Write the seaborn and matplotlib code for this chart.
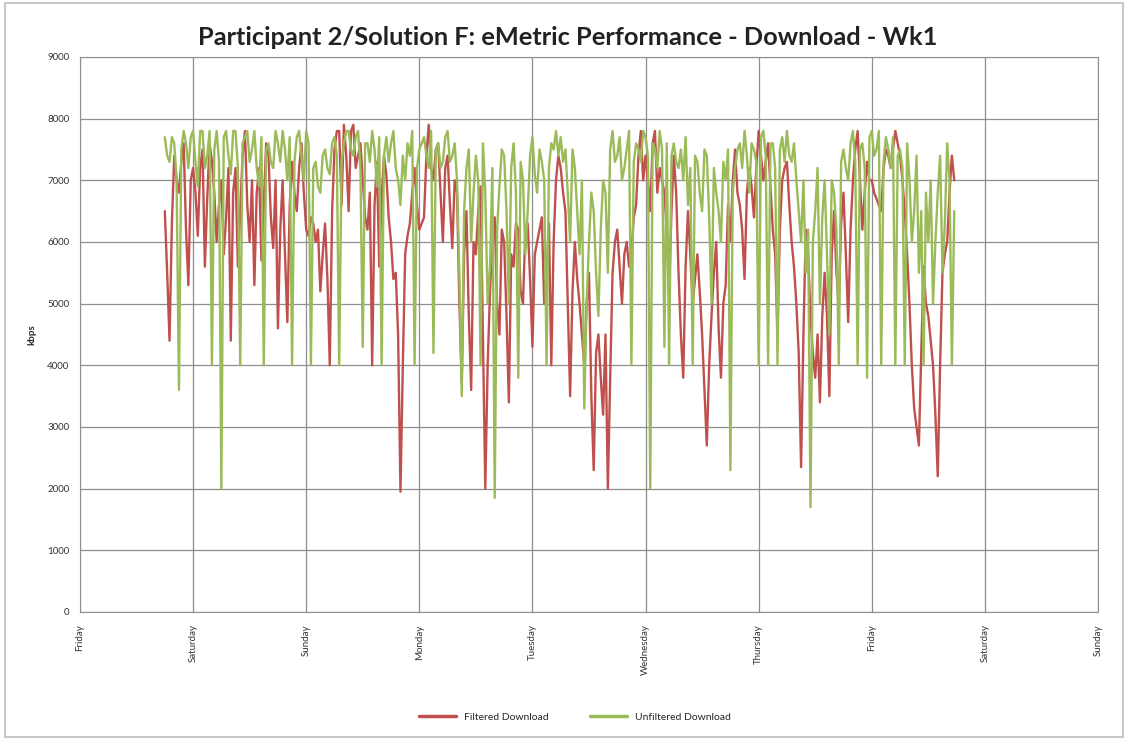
import numpy as np
import pandas as pd
import seaborn as sns
import matplotlib.pyplot as plt
from matplotlib.patches import Rectangle
from matplotlib.lines import Line2D

day_labels = ["Friday", "Saturday", "Sunday", "Monday", "Tuesday",
              "Wednesday", "Thursday", "Friday", "Saturday", "Sunday"]

# samples every half hour, first one at Friday 18:00
start_day = 0.75

# readings on the hour
unfiltered = [
    7700, 7300, 7600, 3600, 7800, 7200, 7800, 6900, 7800, 7400, 4000, 7800,
    2000, 7800, 7100, 7800, 4000, 7700, 7300, 7800, 6900, 4000, 7600, 7200,
    7600, 7800, 7000, 4000, 7700, 7400, 7800, 4000, 7300, 6800, 7500, 7100,
    7700, 4000, 7600, 7800, 7400, 7800, 4300, 7600, 7800, 6900, 4000, 7700,
    7600, 7200, 6600, 7000, 7400, 4000, 7500, 7700, 7200, 4200, 7600, 7300,
    7800, 7400, 7000, 3500, 7200, 6000, 7400, 4000, 6800, 5600, 1850, 6900,
    7400, 5000, 7600, 3800, 7000, 6500, 7700, 6800, 7300, 4000, 7600, 7800,
    7700, 7500, 6000, 7200, 5800, 3300, 6000, 6500, 4800, 7000, 5500, 7800,
    7400, 7000, 7500, 4000, 7600, 7300, 7700, 2000, 7500, 7800, 4300, 4000,
    7600, 7200, 7000, 6600, 4000, 7300, 6500, 7400, 5000, 6800, 6000, 7000,
    2300, 7200, 7600, 7800, 6800, 7500, 4000, 7800, 4000, 7600, 4000, 7700,
    7800, 7300, 7000, 6000, 5500, 1700, 6500, 5000, 7000, 4500, 6800, 4000,
    7500, 7000, 7800, 4000, 7600, 3800, 7800, 7500, 4000, 7700, 7200, 4000,
    7500, 4000, 7000, 6500, 5500, 4000, 6000, 5000, 6800, 5500, 7600, 4000,
]
filtered = [
    6500, 4400, 7400, 6800, 7600, 5300, 7200, 6100, 7500, 6700, 7300, 6000,
    7000, 6400, 4400, 7200, 6500, 7800, 6000, 5300, 7200, 6600, 7400, 5900,
    4600, 7000, 4700, 7300, 6500, 7600, 6200, 6400, 6000, 5200, 6300, 4000,
    7500, 7800, 7900, 6500, 7900, 7400, 7000, 6200, 4000, 7300, 6700, 7100,
    6000, 5500, 1950, 5800, 6300, 7200, 6200, 6400, 7900, 7000, 7600, 6000,
    7400, 5900, 6800, 3700, 6500, 3600, 5800, 6900, 2000, 5200, 6400, 4500,
    6000, 3400, 5600, 6200, 5000, 6300, 4300, 6000, 6400, 5500, 4000, 7000,
    7200, 6500, 3500, 6000, 5000, 4000, 5500, 2300, 4500, 3200, 2000, 5500,
    6200, 5000, 6000, 5800, 6600, 7800, 7400, 6500, 7800, 7200, 6800, 5200,
    7400, 5500, 3800, 6500, 5000, 5800, 4500, 2700, 4800, 6000, 3800, 5300,
    6000, 7500, 6600, 5400, 7200, 6400, 7800, 7000, 7600, 6200, 4500, 7000,
    7300, 6000, 5000, 2350, 6200, 4800, 3800, 3400, 5500, 3500, 6500, 5000,
    6800, 4700, 7000, 7800, 6200, 7300, 7000, 6700, 6500, 7500, 7200, 7800,
    7400, 6500, 5000, 3300, 2700, 5600, 4800, 4000, 2200, 5500, 6000, 7400,
]

# readings on the half hour
unfiltered_half = [
    7400, 7700, 7000, 7500, 7600, 7700, 7300, 7800, 7200, 7800, 7500, 7300,
    7700, 7400, 7800, 7200, 7600, 7800, 7500, 7200, 7700, 7500, 7300, 7800,
    7300, 7500, 7700, 7300, 7800, 7000, 7600, 7200, 6900, 7400, 7200, 7600,
    7400, 7300, 7800, 7500, 7700, 7200, 7600, 7300, 7500, 7700, 7400, 7300,
    7800, 7000, 7400, 7600, 7800, 7200, 7600, 7400, 7800, 7500, 7200, 7700,
    7300, 7600, 5500, 6500, 7500, 6800, 7000, 7600, 5000, 7200, 6200, 7500,
    6500, 7200, 6800, 7300, 5800, 7400, 7100, 7500, 7000, 7200, 7500, 7400,
    7300, 6800, 7500, 6500, 7000, 5000, 6800, 5500, 6200, 6800, 7500, 7300,
    7700, 7200, 7800, 7300, 7500, 7800, 7400, 7600, 7200, 7500, 7600, 7400,
    7300, 7500, 7700, 7200, 7400, 6800, 7500, 6400, 7200, 6500, 7300, 7500,
    6800, 7500, 7200, 7400, 7600, 7300, 7700, 7400, 7600, 7200, 7500, 7300,
    7400, 7600, 6500, 7000, 6200, 6000, 7200, 6400, 5800, 7000, 6200, 7300,
    7200, 7600, 7300, 7500, 7200, 7700, 7400, 7800, 7300, 7500, 7700, 7400,
    7200, 7600, 6000, 7400, 6500, 6800, 7000, 6000, 7400, 6300, 7000, 6500,
]
filtered_half = [
    5500, 6300, 7000, 7300, 6200, 7000, 6800, 7200, 5600, 7600, 6800, 6600,
    5800, 7200, 6800, 5600, 7400, 6600, 7000, 6800, 5700, 7600, 6400, 7000,
    6200, 5800, 6600, 6800, 7200, 6800, 6100, 6300, 6200, 5800, 5400, 6500,
    7800, 6600, 7400, 7800, 7200, 7600, 6400, 6800, 6600, 5600, 7400, 6400,
    5400, 4500, 4000, 6100, 6800, 6600, 6300, 7400, 7200, 7500, 6800, 7200,
    6600, 7000, 5000, 5800, 4800, 6000, 6500, 4500, 4000, 6000, 5000, 6200,
    4800, 5800, 6300, 5200, 6200, 5400, 5800, 6200, 5000, 6300, 6000, 7400,
    6800, 5000, 5200, 5400, 4500, 5000, 3500, 4200, 3800, 4500, 3800, 6000,
    5600, 5800, 5600, 6400, 7400, 7000, 7000, 7600, 6800, 7000, 6200, 6500,
    6800, 4500, 5600, 5800, 5400, 5200, 3600, 4000, 5500, 4600, 5000, 6600,
    7000, 6800, 6200, 6800, 6900, 7200, 7400, 7300, 6900, 5800, 6200, 7200,
    6600, 5600, 4200, 4500, 5800, 4200, 4500, 4800, 4800, 5800, 5500, 6300,
    5800, 6200, 7500, 7000, 6800, 7000, 6800, 6600, 7200, 7400, 7500, 7600,
    7000, 5800, 4000, 3000, 4200, 5000, 4400, 3200, 4000, 5800, 6800, 7000,
]

hours = np.arange(len(filtered))
t_hour = start_day + hours / 24
t_half = start_day + (hours + 0.5) / 24

df = pd.concat([
    pd.DataFrame({"day": t_hour, "kbps": filtered, "series": "Filtered Download"}),
    pd.DataFrame({"day": t_half, "kbps": filtered_half, "series": "Filtered Download"}),
    pd.DataFrame({"day": t_hour, "kbps": unfiltered, "series": "Unfiltered Download"}),
    pd.DataFrame({"day": t_half, "kbps": unfiltered_half, "series": "Unfiltered Download"}),
])

sns.set_style("whitegrid", {"grid.color": "#8f8f8f", "axes.edgecolor": "#8f8f8f"})
plt.rcParams["font.family"] = ["Lato", "DejaVu Sans"]

fig = plt.figure(figsize=(11.28, 7.4), dpi=100)
ax = fig.add_axes([0.0709, 0.173, 0.9025, 0.750])

sns.lineplot(data=df, x="day", y="kbps", hue="series",
             palette={"Filtered Download": "#c0504d", "Unfiltered Download": "#9bbb59"},
             lw=1.7, ax=ax, legend=False, estimator=None)

ax.set_xlim(0, 9)
ax.set_ylim(0, 9000)
ax.set_yticks(range(0, 9001, 1000))
ax.set_xticks(range(0, 10))
ax.set_xticklabels(day_labels, rotation=90, fontsize=7, color="#333333", va="top")
ax.tick_params(axis="y", labelsize=7, labelcolor="#333333", length=4, color="#8f8f8f")
ax.tick_params(axis="x", length=5, color="#8f8f8f", pad=4)
ax.grid(True, color="#8f8f8f", lw=0.9)
for s in ax.spines.values():
    s.set_color("#8f8f8f")
ax.set_xlabel("")
ax.set_ylabel("kbps", fontsize=7, fontweight="bold", labelpad=8)

fig.suptitle("Participant 2/Solution F: eMetric Performance - Download - Wk1",
             x=0.503, y=0.965, fontsize=18.3, fontweight="bold", color="#222222")

handles = [Line2D([], [], color="#c0504d", lw=2.5), Line2D([], [], color="#9bbb59", lw=2.5)]
fig.legend(handles, ["Filtered Download", "Unfiltered Download"], loc="center",
           bbox_to_anchor=(0.51, 0.031), ncol=2, frameon=False, fontsize=7.5,
           handlelength=3.5, columnspacing=4)

fig.patches.append(Rectangle((0.004, 0.004), 0.992, 0.992, transform=fig.transFigure,
                             fill=False, edgecolor="#c8c8c8", lw=1.5))

fig.savefig("out.png", dpi=100)
